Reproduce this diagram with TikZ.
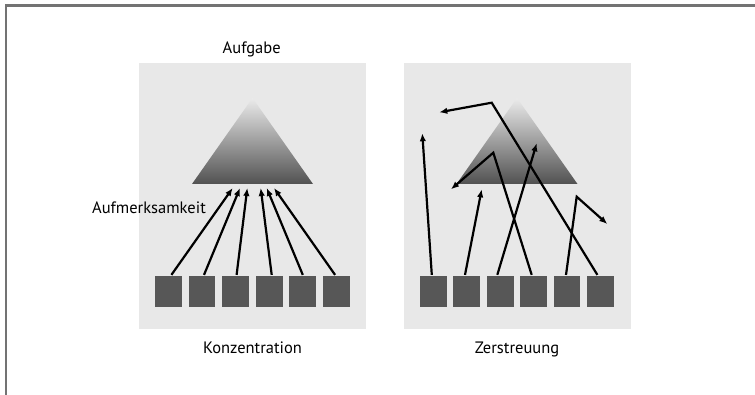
\documentclass[tikz,border=0pt]{standalone}
\usepackage{fontspec}
\setmainfont{PT Sans}
\usetikzlibrary{arrows.meta}

\begin{document}
\begin{tikzpicture}[x = 1pt, y = -1pt, line width = 2.2pt, font = \fontsize{16.5}{19}\selectfont]
\tikzstyle{panel} = [fill = black!9, draw = none]
\tikzstyle{unit} = [shape = rectangle, fill = black!66, minimum width = 26.7pt, minimum height = 31pt, inner sep = 0pt]
\tikzstyle{focus} = [-{Latex[length = 8pt, width = 6.5pt]}]
\tikzstyle{task} = [top color = black!8, bottom color = black!68, draw = none]
\useasboundingbox (0, 0) rectangle (755, 395);
\draw[black!55, line width = 2.5pt] (755, 5.3) -- (6.2, 5.3) -- (6.2, 395);
% Konzentration
\fill[panel] (139, 63) rectangle (366, 329);
\shade[task] (252.5, 98) -- (313, 184) -- (192, 184) -- cycle;
\node[unit] (K-1) at (168.4, 291.5) {};
\node[unit] (K-2) at (202.0, 291.5) {};
\node[unit] (K-3) at (235.6, 291.5) {};
\node[unit] (K-4) at (269.2, 291.5) {};
\node[unit] (K-5) at (302.8, 291.5) {};
\node[unit] (K-6) at (336.4, 291.5) {};
\coordinate (KT-1) at (232.7, 188);
\coordinate (KT-2) at (240.0, 188);
\coordinate (KT-3) at (247.3, 188);
\coordinate (KT-4) at (260.7, 188);
\coordinate (KT-5) at (266.7, 188);
\coordinate (KT-6) at (274.0, 188);
\draw[focus] ([xshift = 3pt]K-1.north) -- (KT-1);
\draw[focus] ([xshift = 2pt]K-2.north) -- (KT-2);
\draw[focus] ([xshift = 1pt]K-3.north) -- (KT-3);
\draw[focus] ([xshift = 2.5pt]K-4.north) -- (KT-4);
\draw[focus] (K-5.north) -- (KT-5);
\draw[focus] ([xshift = -1.3pt]K-6.north) -- (KT-6);
\node (aufgabe) at (251.7, 53.3) [anchor = base] {Aufgabe};
\node (aufmerksamkeit) at (91, 214) [anchor = base west, inner sep = 0pt] {Aufmerksamkeit};
\node (konzentration) at (252.5, 353.3) [anchor = base] {Konzentration};
% Zerstreuung
\fill[panel] (404, 63) rectangle (631, 329);
\shade[task] (517, 98) -- (577.5, 184) -- (456.5, 184) -- cycle;
\node[unit] (Z-1) at (433.4, 291.5) {};
\node[unit] (Z-2) at (466.8, 291.5) {};
\node[unit] (Z-3) at (500.2, 291.5) {};
\node[unit] (Z-4) at (533.6, 291.5) {};
\node[unit] (Z-5) at (567.0, 291.5) {};
\node[unit] (Z-6) at (600.4, 291.5) {};
\coordinate (ZT-1) at (422.3, 133.3);
\coordinate (ZT-2) at (481.7, 189.3);
\coordinate (ZT-3) at (536.7, 143.3);
\coordinate (ZC-4) at (493.3, 152.7);
\coordinate (ZT-4) at (451.0, 189.3);
\coordinate (ZC-5) at (576.7, 196.7);
\coordinate (ZT-5) at (607.3, 224.0);
\coordinate (ZC-6) at (491.7, 102.7);
\coordinate (ZT-6) at (439.3, 112.3);
\draw[focus] ([xshift = -1.6pt]Z-1.north) -- (ZT-1);
\draw[focus] ([xshift = -1.8pt]Z-2.north) -- (ZT-2);
\draw[focus] ([xshift = -2.9pt]Z-3.north) -- (ZT-3);
\draw[focus] ([xshift = -1.9pt]Z-4.north) -- (ZC-4) -- (ZT-4);
\draw[focus] ([xshift = -1pt]Z-5.north) -- (ZC-5) -- (ZT-5);
\draw[focus] ([xshift = -3pt]Z-6.north) -- (ZC-6) -- (ZT-6);
\node (zerstreuung) at (517, 353.3) [anchor = base] {Zerstreuung};
\end{tikzpicture}
\end{document}
